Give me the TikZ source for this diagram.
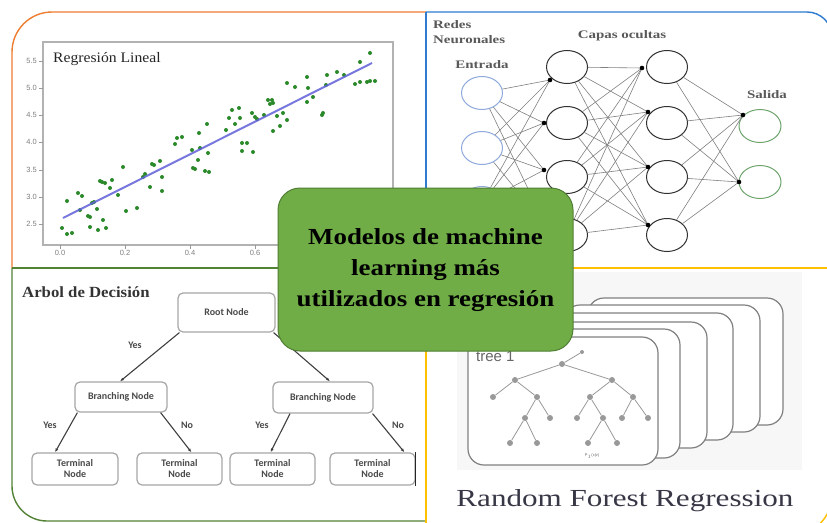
\documentclass[tikz,border=0pt]{standalone}
\usepackage{fontspec}
\setmainfont{Liberation Serif}
\newfontfamily\gfont[FakeStretch=1.17]{Liberation Serif}
\newfontfamily\nnfont[FakeStretch=1.3]{Liberation Serif}
\newfontfamily\rffont[FakeStretch=1.27]{Liberation Serif}
\newfontfamily\lrfont[FakeStretch=1.08]{Liberation Serif}
\newfontfamily\dtfont{Carlito}
\newfontfamily\tkfont{Liberation Sans}
\usetikzlibrary{arrows.meta,shapes.geometric}
\definecolor{orangeF}{HTML}{ED7D31}
\definecolor{blueF}{HTML}{2E7BD0}
\definecolor{greenF}{HTML}{548235}
\definecolor{yellowF}{HTML}{FFC000}
\definecolor{boxgreen}{HTML}{70AD47}
\definecolor{boxedge}{HTML}{507E32}
\definecolor{dotgreen}{HTML}{2A8A2A}
\definecolor{regblue}{HTML}{6060D8}
\definecolor{inblue}{HTML}{8FAADC}
\definecolor{outgreen}{HTML}{6FA56F}
\definecolor{txtgray}{HTML}{4A4A4A}
\tikzset{
  frame/.style={line width=1.4pt},
  inp/.style={ellipse,draw=inblue,line width=1pt,fill=white,minimum width=41pt,minimum height=33pt,inner sep=0pt},
  hid/.style={ellipse,draw=black!80,line width=1pt,fill=white,minimum width=41pt,minimum height=33pt,inner sep=0pt},
  outn/.style={ellipse,draw=outgreen,line width=1pt,fill=white,minimum width=42pt,minimum height=33pt,inner sep=0pt},
  conn/.style={draw=black!50,line width=0.6pt},
  ndot/.style={fill=black},
  dtbox/.style={draw=black!35,line width=1.2pt,rounded corners=5pt,fill=white,font=\dtfont\bfseries\fontsize{10}{11}\selectfont,text=txtgray,align=center,inner sep=0pt},
  dtarrow/.style={draw=black!75,line width=1.1pt,-{Latex[length=4pt,width=3pt]}},
  dtlab/.style={font=\dtfont\bfseries\fontsize{10}{12}\selectfont,text=txtgray},
  card/.style={draw=black!50,line width=1.2pt,fill=white,rounded corners=16pt},
  tnode/.style={circle,fill=black!40,minimum size=6pt,inner sep=0pt},
  tedge/.style={draw=black!40,line width=0.8pt},
  nnlab/.style={font=\nnfont\bfseries\fontsize{11.5}{13}\selectfont,text=black!65,inner sep=0pt},
  tick/.style={font=\tkfont\fontsize{7.5}{9}\selectfont,text=black!50,inner sep=0pt},
}
\begin{document}
\begin{tikzpicture}[x=1pt,y=-1pt]
\useasboundingbox (0,0) rectangle (827,522);
\fill[white] (0,0) rectangle (827,522);

% ---------- quadrant frames ----------
\draw[frame,orangeF,rounded corners=40pt] (12,268) -- (12,12) -- (426,12);
\draw[frame,orangeF] (426,12) -- (426,268) -- (12,268);
\draw[frame,greenF,rounded corners=35pt] (12,268) -- (12,521) -- (426,521);
\draw[frame,greenF] (426,521) -- (426,268) -- (12,268);
\draw[frame,blueF,rounded corners=25pt] (426,12) -- (832,12) -- (832,268);
\draw[frame,blueF] (832,268) -- (426,268) -- (426,12);
\draw[frame,yellowF,rounded corners=40pt] (832,268) -- (832,535) -- (426,535);
\draw[frame,yellowF] (426,535) -- (426,268) -- (832,268);

% ---------- Regresion lineal ----------
\draw[black!30,line width=1.5pt] (43,42) rectangle (393,245);
\foreach \v/\y in {5.5/61,5.0/88,4.5/115,4.0/142,3.5/170,3.0/197,2.5/224}{
  \draw[black!40,line width=0.6pt] (39,\y) -- (43,\y);
  \node[tick,anchor=east] at (37,\y) {\v};
}
\foreach \v/\x in {0.0/60,0.2/125,0.4/190,0.6/255}{
  \draw[black!40,line width=0.6pt] (\x,245) -- (\x,249);
  \node[tick,anchor=north] at (\x,250) {\v};
}
\foreach \x/\y in {62/228,67/201,67/234,72/233,78/193,82/196,80/210,88/216,90/217,92/203,94/202,90/227,97/209,98/230,100/181,102/182,105/183,103/220,106/228,110/188,112/180,118/195,123/167,126/211,137/208,143/177,145/174,150/187,152/164,154/165,160/161,162/177,162/191,175/144,177/138,182/137,192/150,193/168,195/169,198/160,199/133,200/148,205/171,208/153,209/172,207/124,226/130,229/118,232/110,235/124,239/108,240/118,242/143,242/151,247/143,253/152,252/113,255/117,257/119,264/115,268/100,272/100,270/104,273/103,273/131,277/116,280/126,283/113,287/120,287/83,295/87,307/77,307/102,308/88,313/97,322/115,323/113,327/75,326/85,337/72,344/75,355/84,360/82,360/62,367/82,370/81,375/81,370/53}{
  \fill[dotgreen] (\x,\y) circle (2pt);
}
\draw[regblue,opacity=0.85,line width=2pt] (63,218) -- (372,63);
\node[font=\lrfont\fontsize{14.5}{16}\selectfont,text=black!85,anchor=base west,inner sep=0pt] (lrtitle) at (53,62) {Regresión Lineal};

% ---------- Redes neuronales ----------
\node[inp] (i1) at (482,93) {};
\node[inp] (i2) at (482,148) {};
\node[inp] (i3) at (482,203) {};
\node[hid] (a1) at (567,67) {};
\node[hid] (a2) at (567,123) {};
\node[hid] (a3) at (567,177) {};
\node[hid] (a4) at (567,235) {};
\node[hid] (b1) at (667,67) {};
\node[hid] (b2) at (667,123) {};
\node[hid] (b3) at (667,177) {};
\node[hid] (b4) at (667,235) {};
\node[outn] (o1) at (760,126) {};
\node[outn] (o2) at (760,182) {};
\coordinate (a1d) at (550,80);
\coordinate (a2d) at (544,123);
\coordinate (a3d) at (544,170);
\coordinate (a4d) at (546,226);
\coordinate (b1d) at (642,68);
\coordinate (b2d) at (648,112);
\coordinate (b3d) at (648,167);
\coordinate (b4d) at (648,225);
\coordinate (o1d) at (743,115);
\coordinate (o2d) at (739,182);
\foreach \s in {i1,i2,i3}{\foreach \t in {a1,a2,a3,a4}{\draw[conn] (\s) -- (\t d);}}
\foreach \s in {a1,a2,a3,a4}{\foreach \t in {b1,b2,b3,b4}{\draw[conn] (\s) -- (\t d);}}
\foreach \s in {b1,b2,b3,b4}{\foreach \t in {o1,o2}{\draw[conn] (\s) -- (\t d);}}
\foreach \t in {a1,a2,a3,a4,b1,b2,b3,b4,o1,o2}{\fill[ndot] (\t d) circle (2.3pt);}
\node[nnlab,anchor=base west] (nn1) at (433,28) {Redes};
\node[nnlab,anchor=base west] (nn2) at (433,43) {Neuronales};
\node[nnlab,anchor=base] (nn3) at (622,38) {Capas ocultas};
\node[nnlab,anchor=base] (nn4) at (482,68) {Entrada};
\node[nnlab,anchor=base] (nn5) at (767,98) {Salida};

% ---------- Arbol de decision ----------
\node[font=\lrfont\bfseries\fontsize{15.5}{18}\selectfont,text=black!80,anchor=base west,inner sep=0pt] (dttitle) at (22,297) {Arbol de Decisión};
\node[dtbox,minimum width=97pt,minimum height=39pt] (root) at (226.5,312.5) {Root Node};
\node[dtbox,minimum width=92pt,minimum height=30pt] (bl) at (121,397) {Branching Node};
\node[dtbox,minimum width=100pt,minimum height=31pt] (br) at (323,397.5) {Branching Node};
\node[dtbox,minimum width=86pt,minimum height=32pt] (t1) at (75,469) {Terminal\\Node};
\node[dtbox,minimum width=85pt,minimum height=32pt] (t2) at (179.5,469) {Terminal\\Node};
\node[dtbox,minimum width=85pt,minimum height=32pt] (t3) at (272.5,469) {Terminal\\Node};
\node[dtbox,minimum width=85pt,minimum height=32pt] (t4) at (372.5,469) {Terminal\\Node};
\draw[black!85,line width=1.3pt] (t4.north east) -- (t4.south east);
\draw[dtarrow] ([xshift=2pt]root.south west) -- ([xshift=-1pt]bl.north);
\draw[dtarrow] ([xshift=-2pt]root.south east) -- ([xshift=7pt]br.north);
\draw[dtarrow] ([xshift=3pt]bl.south west) -- ([xshift=-20pt]t1.north);
\draw[dtarrow] ([xshift=-7pt]bl.south east) -- ([xshift=12pt]t2.north);
\draw[dtarrow] ([xshift=-33pt]br.south) -- ([xshift=-2pt]t3.north);
\draw[dtarrow] ([xshift=-1pt]br.south east) -- ([xshift=32pt]t4.north);
\node[dtlab] (y1) at (135,345) {Yes};
\node[dtlab] (y2) at (50,425) {Yes};
\node[dtlab] (n1) at (187,425) {No};
\node[dtlab] (y3) at (262,425) {Yes};
\node[dtlab] (n2) at (398,425) {No};

% ---------- Random forest ----------
\fill[black!3] (457,272) rectangle (802,470);
\draw[card] (588,298) rectangle (783,425);
\draw[card] (564,305) rectangle (760,432);
\draw[card] (540,313) rectangle (733,440);
\draw[card] (516,322) rectangle (707,448);
\draw[card] (492,329) rectangle (680,458);
\draw[card] (468,337) rectangle (658,465);
\node[tnode,minimum size=4pt] (r0) at (582,352) {};
\node[tnode] (r1) at (562,364) {};
\node[tnode] (r2) at (515,380) {};
\node[tnode] (r3) at (612,380) {};
\node[tnode] (r4) at (493,397) {};
\node[tnode] (r5) at (537,397) {};
\node[tnode] (r6) at (590,397) {};
\node[tnode] (r7) at (633,397) {};
\node[tnode] (r8) at (525,418) {};
\node[tnode] (r9) at (550,418) {};
\node[tnode] (r10) at (577,418) {};
\node[tnode] (r11) at (603,418) {};
\node[tnode] (r12) at (622,418) {};
\node[tnode] (r13) at (648,418) {};
\node[tnode] (r14) at (510,443) {};
\node[tnode] (r15) at (537,443) {};
\node[tnode] (r16) at (588,443) {};
\node[tnode] (r17) at (617,443) {};
\foreach \a/\b in {r0/r1,r1/r2,r1/r3,r2/r4,r2/r5,r3/r6,r3/r7,r5/r8,r5/r9,r6/r10,r6/r11,r7/r12,r7/r13,r8/r14,r8/r15,r11/r16,r11/r17}{\draw[tedge] (\a) -- (\b);}
\node[font=\tkfont\fontsize{4}{5}\selectfont,text=black!60,inner sep=0pt] (pcv) at (592,456) {P$_1$(c|v)};
\node[font=\tkfont\fontsize{15}{17}\selectfont,text=black!60,anchor=base west,inner sep=0pt] (tree1) at (476,361) {tree 1};
\node[font=\rffont\fontsize{24.5}{28}\selectfont,text={rgb,255:red,55;green,55;blue,70},anchor=base,inner sep=0pt] (rftitle) at (625,506) {Random Forest Regression};

% ---------- central box ----------
\node[draw=boxedge,line width=1pt,fill=boxgreen,rounded corners=22pt,minimum width=295pt,minimum height=163pt,inner sep=0pt] (center) at (425.5,269.5) {};
\node[font=\gfont\bfseries\fontsize{23}{31}\selectfont,align=center,inner sep=0pt] (ctext) at (425.5,270) {Modelos de machine\\learning más\\utilizados en regresión};
\end{tikzpicture}
\end{document}
